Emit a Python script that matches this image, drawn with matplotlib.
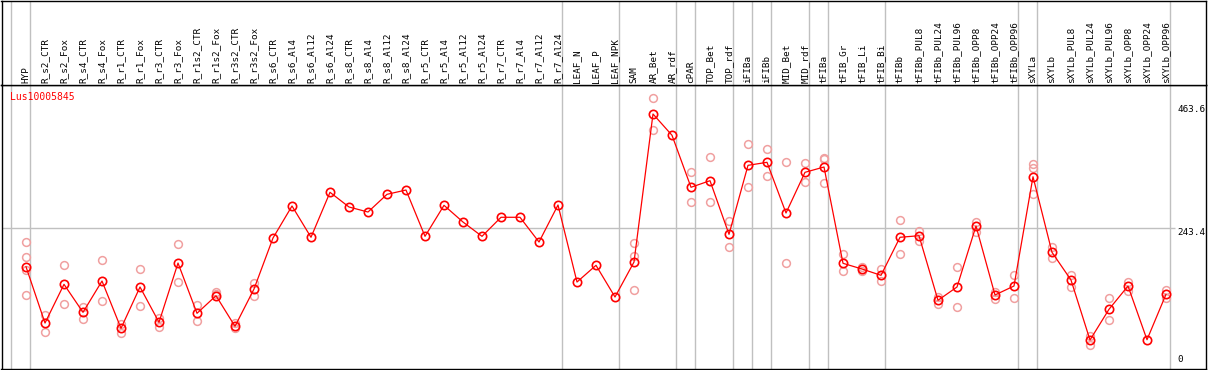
import matplotlib
matplotlib.use('Agg')
import matplotlib.pyplot as plt
import matplotlib.transforms as mtrans

# amostras (colunas)
amostras=['HYP','R_s2_CTR','R_s2_Fox','R_s4_CTR','R_s4_Fox','R_r1_CTR','R_r1_Fox',
          'R_r3_CTR','R_r3_Fox','R_r1s2_CTR','R_r1s2_Fox','R_r3s2_CTR','R_r3s2_Fox',
          'R_s6_CTR','R_s6_Al4','R_s6_Al12','R_s6_Al24','R_s8_CTR','R_s8_Al4','R_s8_Al12',
          'R_s8_Al24','R_r5_CTR','R_r5_Al4','R_r5_Al12','R_r5_Al24','R_r7_CTR','R_r7_Al4',
          'R_r7_Al12','R_r7_Al24','LEAF_N','LEAF_P','LEAF_NPK','SAM','AR_Bet','AR_rdf',
          'cPAR','TOP_Bet','TOP_rdf','iFIBa','iFIBb','MID_Bet','MID_rdf','tFIBa','tFIB_Gr',
          'tFIB_Li','tFIB_Bi','tFIBb','tFIBb_PUL8','tFIBb_PUL24','tFIBb_PUL96','tFIBb_OPP8',
          'tFIBb_OPP24','tFIBb_OPP96','sXYLa','sXYLb','sXYLb_PUL8','sXYLb_PUL24',
          'sXYLb_PUL96','sXYLb_OPP8','sXYLb_OPP24','sXYLb_OPP96']

# media de expressao
media=[174.7,73.9,143.2,93.1,149.1,64.4,138.4,75.2,181.3,91.3,122.8,68.0,134.8,
       226.1,283.4,227.4,307.9,281.6,272.6,304.3,312.0,229.1,284.6,254.7,229.1,263.2,
       263.2,218.9,285.2,147.3,177.2,120.5,183.1,448.1,410.0,316.9,328.7,232.7,356.2,
       361.6,270.9,343.7,353.2,180.8,170.6,159.3,227.4,230.2,114.6,138.4,247.6,124.1,
       140.2,335.8,200.5,150.9,43.5,98.5,140.2,44.0,125.3]

# replicas de cada amostra
replicas=[[218.4,192.1,168.8,124.1],[88.3,58.4],[177.8,107.4],[103.1,81.6],[186.2,113.3],
          [72.1,55.5],[170.1,103.8],[83.4,67.3],[214.8,146.8],[106.2,77.0],[128.9,125.9],
          [73.4,64.4],[145.5,122.8],
          [],[],[],[],[],[],[],[],[],[],[],[],[],[],[],[],[],[],[],
          [216.6,193.9,133.0],[476.2,419.5],[],[343.7,290.0],[370.6,290.0],[256.0,209.5],
          [393.8,316.9],[384.9,336.6],[361.6,180.8],[359.8,326.9],[369.9,367.5,324.0],
          [197.5,166.5],[174.7,166.5],[170.6,149.1],[257.8,196.9],[239.2,221.3],
          [121.0,107.9],[174.2,102.0],[255.3,237.4],[130.0,116.9],[159.9,118.2],
          [358.0,350.9,304.3],[210.5,189.8],[159.9,138.9],[50.7,35.1],[118.2,78.8],
          [147.9,131.8],[],[132.5,118.2]]

# onde comecam os grupos
grupos=[0,1,29,32,35,36,38,39,40,42,43,46,53,54,61]

nome_gene='Lus10005845'
marcas=[0,243.4,463.6]

W,H=1209,370
fig=plt.figure(figsize=(W/100,H/100),dpi=100)
ax=fig.add_axes([1.5/W,1.5/H,1204/W,283.5/H])
axt=fig.add_axes([1.5/W,285/H,1204/W,84.5/H],sharex=ax)

xs=list(range(len(amostras)))
x0=-24.5/19
x1=1179.5/19
ax.set_xlim(x0,x1)
ax.set_ylim(-7.5,500)
axt.set_ylim(0,1)

for a in (ax,axt):
    a.set_xticks([])
    a.set_yticks([])
    for s in a.spines.values():
        s.set_linewidth(1.0)
        s.set_color('black')
    for g in grupos:
        a.axvline(g-15/19,color='#c0c0c0',lw=1.0,zorder=0)

ax.hlines(243.4,x0,60.45,color='#c0c0c0',lw=1.0,zorder=0)

# replicas
rx=[]
ry=[]
for i,r in enumerate(replicas):
    rx+=[i]*len(r)
    ry+=r
ax.plot(rx,ry,'o',ms=5.6,mfc='none',mec='#f0a0a0',mew=1.1,zorder=2)

# media
ax.plot(xs,media,'-',color='red',lw=0.9,zorder=3)
ax.plot(xs,media,'o',ms=6,mfc='none',mec='red',mew=1.2,zorder=4)

# nomes das amostras
tr=mtrans.blended_transform_factory(axt.transData,axt.transAxes)
for i,nome in enumerate(amostras):
    axt.text(i,0.025,nome,rotation=90,ha='center',va='bottom',transform=tr,
             family='DejaVu Sans Mono',fontsize=6.7,color='black')

fig.text(10/W,1-97/H,nome_gene,color='red',ha='left',va='center',
         family='DejaVu Sans Mono',fontsize=7)

tr2=mtrans.blended_transform_factory(ax.transAxes,ax.transData)
for m in marcas:
    txt=('%.1f'%m) if m>0 else '0'
    ax.text(1175.5/1204,m,txt,transform=tr2,ha='left',va=('bottom' if m==0 else 'top'),
            family='DejaVu Sans Mono',fontsize=6.7,color='black')

fig.savefig('out.png',dpi=100)
